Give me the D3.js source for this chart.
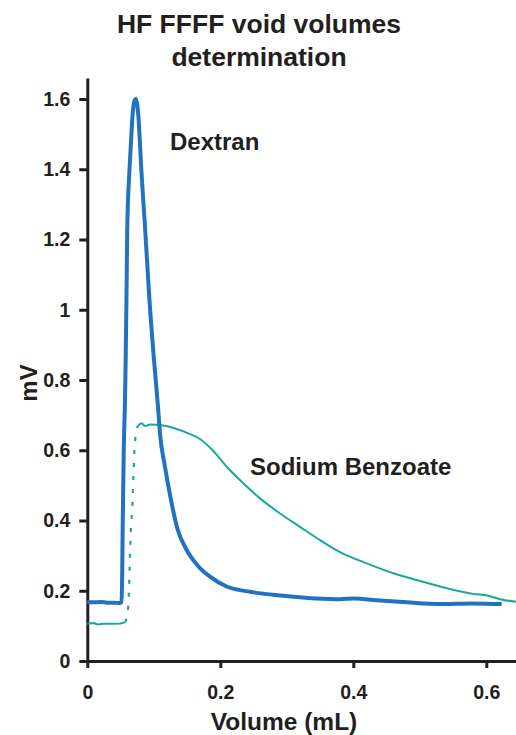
<!DOCTYPE html>
<html>
<head>
<meta charset="utf-8">
<script src="https://cdn.jsdelivr.net/npm/d3@7"></script>
<style>
  body { margin: 0; background: #fff; }
  text { font-family: "Liberation Sans", Arial, Helvetica, sans-serif; font-weight: bold; fill: #231f20; }
</style>
</head>
<body>
<div id="chart-area"></div>
<script>
// Dextran trace: [volume (mL), signal (mV)]
const dextran = [
  [0.000,0.168],[0.010,0.167],[0.020,0.168],[0.030,0.166],[0.040,0.166],[0.048,0.165],
  [0.0515,0.168],[0.0525,0.25],[0.0532,0.382],[0.0548,0.60],[0.0567,0.743],[0.0578,0.87],
  [0.0590,1.05],[0.0600,1.22],[0.0612,1.31],[0.0632,1.39],[0.0652,1.46],[0.0683,1.56],
  [0.0710,1.595],[0.0728,1.600],[0.0745,1.59],[0.0767,1.555],[0.0790,1.48],[0.0812,1.40],
  [0.0835,1.33],[0.0868,1.236],[0.0928,1.047],[0.1003,0.857],[0.1063,0.724],[0.1093,0.648],
  [0.1168,0.553],[0.1259,0.458],[0.1353,0.378],[0.1494,0.316],[0.1645,0.275],[0.1845,0.240],
  [0.2096,0.212],[0.2447,0.197],[0.2947,0.186],[0.345,0.178],[0.380,0.176],[0.400,0.178],
  [0.4401,0.172],[0.4803,0.167],[0.5304,0.162],[0.5804,0.164],[0.6231,0.162]
];

// Sodium benzoate trace: baseline, steep (dotted) rise, then broad peak
const benzoateBase = [
  [0.000,0.106],[0.010,0.108],[0.015,0.104],[0.025,0.106],[0.040,0.106],[0.050,0.107],[0.0567,0.110]
];
const benzoateRise = [
  [0.0567,0.110],[0.0592,0.121],[0.0617,0.155],[0.0632,0.231],[0.0642,0.307],[0.0657,0.382],
  [0.0677,0.439],[0.0692,0.518],[0.0707,0.596],[0.0722,0.634],[0.0757,0.669]
];
const benzoateTail = [
  [0.0757,0.669],[0.0818,0.677],[0.0868,0.669],[0.0943,0.673],[0.1118,0.671],[0.1319,0.662],
  [0.152,0.648],[0.1695,0.632],[0.1895,0.598],[0.2096,0.553],[0.2346,0.506],[0.2597,0.463],
  [0.2898,0.420],[0.3198,0.382],[0.350,0.344],[0.380,0.310],[0.420,0.278],[0.4602,0.250],
  [0.5003,0.228],[0.5405,0.207],[0.5804,0.191],[0.603,0.186],[0.6206,0.176],[0.6447,0.169]
];

const xTicks = [0, 0.2, 0.4, 0.6];
const yTicks = [0, 0.2, 0.4, 0.6, 0.8, 1, 1.2, 1.4, 1.6];

const width = 516;
const height = 735;
const ink = "#231f20";

const svg = d3.select("#chart-area")
    .append("svg")
    .attr("width", width)
    .attr("height", height);

const xScale = d3.scaleLinear()
    .domain([0, 0.65])
    .range([87.3, 87.3 + 0.65 * 665]);

const yScale = d3.scaleLinear()
    .domain([0, 1.66])
    .range([661, 661 - 1.66 * 351.25]);

// Axes
const xAxis = d3.axisBottom(xScale)
    .tickValues(xTicks)
    .tickFormat(d => d)
    .tickSizeInner(7)
    .tickSizeOuter(0)
    .tickPadding(17);

const yAxis = d3.axisLeft(yScale)
    .tickValues(yTicks)
    .tickFormat(d => d)
    .tickSizeInner(8)
    .tickSizeOuter(0)
    .tickPadding(9);

const xAxisGroup = svg.append("g")
    .attr("transform", `translate(0,${yScale(0)})`)
    .call(xAxis);

const yAxisGroup = svg.append("g")
    .attr("transform", `translate(${xScale(0)},0)`)
    .call(yAxis);

[xAxisGroup, yAxisGroup].forEach(g => {
    g.select(".domain").attr("stroke", ink).attr("stroke-width", 3);
    g.selectAll(".tick line").attr("stroke", ink).attr("stroke-width", 3);
    g.selectAll(".tick text")
        .attr("fill", ink)
        .style("font-size", "19.5px")
        .style("font-family", "'Liberation Sans', Arial, sans-serif")
        .style("font-weight", "bold");
});

// Lines
const line = d3.line()
    .x(d => xScale(d[0]))
    .y(d => yScale(d[1]));

const teal = "#19a99b";
const blue = "#2172c1";

svg.append("path")
    .datum(benzoateBase)
    .attr("fill", "none")
    .attr("stroke", teal)
    .attr("stroke-width", 2)
    .attr("d", line);

svg.append("path")
    .datum(benzoateRise)
    .attr("fill", "none")
    .attr("stroke", teal)
    .attr("stroke-width", 2.2)
    .attr("stroke-dasharray", "4,9")
    .attr("d", line);

line.curve(d3.curveMonotoneX);

svg.append("path")
    .datum(benzoateTail)
    .attr("fill", "none")
    .attr("stroke", teal)
    .attr("stroke-width", 2)
    .attr("stroke-linejoin", "round")
    .attr("d", line);

svg.append("path")
    .datum(dextran)
    .attr("fill", "none")
    .attr("stroke", blue)
    .attr("stroke-width", 4)
    .attr("stroke-linejoin", "round")
    .attr("d", line);

// Title
svg.append("text")
    .attr("x", 259)
    .attr("y", 33)
    .attr("text-anchor", "middle")
    .style("font-size", "26.5px")
    .text("HF FFFF void volumes");

svg.append("text")
    .attr("x", 259)
    .attr("y", 65.5)
    .attr("text-anchor", "middle")
    .style("font-size", "26.5px")
    .text("determination");

// Axis labels
svg.append("text")
    .attr("x", 284)
    .attr("y", 730)
    .attr("text-anchor", "middle")
    .style("font-size", "24.5px")
    .text("Volume (mL)");

svg.append("text")
    .attr("transform", "translate(37,383) rotate(-90)")
    .attr("text-anchor", "middle")
    .style("font-size", "24px")
    .text("mV");

// Series labels
svg.append("text")
    .attr("x", 170)
    .attr("y", 150)
    .style("font-size", "24px")
    .text("Dextran");

svg.append("text")
    .attr("x", 250)
    .attr("y", 475)
    .style("font-size", "24px")
    .text("Sodium Benzoate");
</script>
</body>
</html>
